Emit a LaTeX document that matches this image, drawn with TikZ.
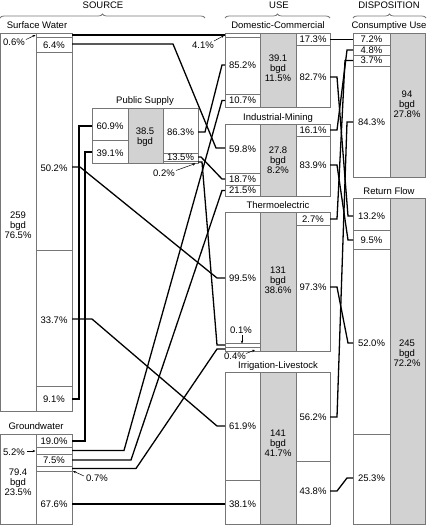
\documentclass[tikz,border=0pt]{standalone}
\usepackage{fontspec}
\setmainfont{Liberation Sans}
\usetikzlibrary{decorations.pathreplacing,arrows.meta}
\definecolor{gfill}{HTML}{D2D2D2}
\definecolor{bline}{HTML}{767676}
\begin{document}
\begin{tikzpicture}[x=1pt,y=-1pt,
  font=\fontsize{9.5}{10.2}\selectfont,
  box/.style={draw=bline, line width=0.8pt},
  gcol/.style={fill=gfill, draw=none},
  conn/.style={line width=1.3pt, black, line join=miter},
  lbl/.style={inner sep=0pt, anchor=base, yshift=-3.4pt},
  glbl/.style={inner sep=0pt, align=center, anchor=center},
  arr/.style={line width=0.5pt, -{Stealth[length=3pt,width=2.4pt]}},
  brace/.style={draw=bline, line width=0.8pt, decorate, decoration={brace, amplitude=4pt}}]
\useasboundingbox (0,0) rectangle (428,525);

% headers
\node[lbl] (hsrc) at (103,5.5) {SOURCE};
\node[lbl] (huse) at (279,5.5) {USE};
\node[lbl] (hdis) at (389,5.5) {DISPOSITION};
\draw[brace] (0,18) -- (205,18);
\draw[brace] (225,18) -- (330,18);
\draw[brace] (353,18) -- (426,18);

% titles
\node[lbl] (tsw) at (37,25.5) {Surface Water};
\node[lbl] (tps) at (145,100) {Public Supply};
\node[lbl] (tgw) at (36,426) {Groundwater};
\node[lbl] (tdc) at (278,25.5) {Domestic-Commercial};
\node[lbl] (tim) at (278,117) {Industrial-Mining};
\node[lbl] (tte) at (278,205) {Thermoelectric};
\node[lbl] (tir) at (278,365) {Irrigation-Livestock};
\node[lbl] (tcu) at (389,25.5) {Consumptive Use};
\node[lbl] (trf) at (389,191) {Return Flow};

% Surface water
\draw[box] (0,33) rectangle (72,411);
\draw[box] (36,33) -- (36,411);
\foreach \yy in {37,52,250,386} \draw[box] (36,\yy) -- (72,\yy);
\node[glbl] (swt) at (18,225) {259\\bgd\\76.5\%};
\node[lbl] (sw06l) at (14,42) {0.6\%};
\draw[arr] (26,39.5) -- (35.5,35);
\node[lbl] (sw64l) at (54,45) {6.4\%};
\node[lbl] (sw502l) at (54,168) {50.2\%};
\node[lbl] (sw337l) at (54,320) {33.7\%};
\node[lbl] (sw91l) at (54,399) {9.1\%};

% Groundwater
\draw[box] (0,434) rectangle (72,524);
\draw[box] (36,434) -- (36,524);
\foreach \yy in {447,454,466,471} \draw[box] (36,\yy) -- (72,\yy);
\node[glbl] (gwt) at (18,482) {79.4\\bgd\\23.5\%};
\node[lbl] (gw19l) at (54,441) {19.0\%};
\node[lbl] (gw75l) at (54,460.5) {7.5\%};
\node[lbl] (gw676l) at (54,504) {67.6\%};
\node[lbl] (gw52l) at (14,452) {5.2\%};
\draw[arr] (27,451) -- (35.5,451);
\node[lbl] (gw07l) at (97,478) {0.7\%};
\draw[arr] (84,476) -- (73,471);

% Public supply
\fill[gfill] (128,108) rectangle (163,163);
\draw[box] (92,108) rectangle (198,163);
\draw[box] (128,108) -- (128,163);
\draw[box] (163,108) -- (163,163);
\draw[box] (92,140) -- (128,140);
\draw[box] (163,153) -- (198,153);
\draw[box] (163,161) -- (198,161);
\node[glbl] (pst) at (145,137) {38.5\\bgd};
\node[lbl] (ps609l) at (110,126) {60.9\%};
\node[lbl] (ps391l) at (110,153) {39.1\%};
\node[lbl] (ps863l) at (180.5,132.5) {86.3\%};
\node[lbl] (ps135l) at (180.5,157.5) {13.5\%};
\node[lbl] (ps02l) at (164,173) {0.2\%};
\draw[arr] (176,170.5) -- (195.5,163.5);

% Domestic-Commercial
\fill[gfill] (260,33) rectangle (296,107);
\draw[box] (225,33) rectangle (330,107);
\draw[box] (260,33) -- (260,107);
\draw[box] (296,33) -- (296,107);
\draw[box] (225,37) -- (260,37);
\draw[box] (225,94) -- (260,94);
\draw[box] (296,45) -- (330,45);
\node[glbl] (dct) at (278,68) {39.1\\bgd\\11.5\%};
\node[lbl] (dc852l) at (242.5,65) {85.2\%};
\node[lbl] (dc107l) at (242.5,100.5) {10.7\%};
\node[lbl] (dc173l) at (313,39.5) {17.3\%};
\node[lbl] (dc827l) at (313,77) {82.7\%};
\node[lbl] (dc41l) at (203,45) {4.1\%};
\draw[arr] (214,41) -- (224,35.5);

% Industrial-Mining
\fill[gfill] (260,124) rectangle (296,196);
\draw[box] (225,124) rectangle (330,196);
\draw[box] (260,124) -- (260,196);
\draw[box] (296,124) -- (296,196);
\draw[box] (225,173) -- (260,173);
\draw[box] (225,185) -- (260,185);
\draw[box] (296,136) -- (330,136);
\node[glbl] (imt) at (278,160) {27.8\\bgd\\8.2\%};
\node[lbl] (im598l) at (242.5,149) {59.8\%};
\node[lbl] (im187l) at (242.5,179) {18.7\%};
\node[lbl] (im215l) at (242.5,190.5) {21.5\%};
\node[lbl] (im161l) at (313,130) {16.1\%};
\node[lbl] (im839l) at (313,165) {83.9\%};

% Thermoelectric
\fill[gfill] (260,212) rectangle (296,351);
\draw[box] (225,212) rectangle (330,351);
\draw[box] (260,212) -- (260,351);
\draw[box] (296,212) -- (296,351);
\draw[box] (225,343) -- (260,343);
\draw[box] (225,347) -- (260,347);
\draw[box] (296,225) -- (330,225);
\node[glbl] (tet) at (278,280) {131\\bgd\\38.6\%};
\node[lbl] (te995l) at (242.5,278) {99.5\%};
\node[lbl] (te27l) at (313,219) {2.7\%};
\node[lbl] (te973l) at (313,287) {97.3\%};
\node[lbl] (te01l) at (241,330) {0.1\%};
\draw[arr] (242,335) -- (242,343.5);
\node[lbl] (te04l) at (235,356) {0.4\%};
\draw[arr] (246,353.5) -- (255,350);

% Irrigation-Livestock
\fill[gfill] (260,372) rectangle (296,524);
\draw[box] (225,372) rectangle (330,524);
\draw[box] (260,372) -- (260,524);
\draw[box] (296,372) -- (296,524);
\draw[box] (225,480) -- (260,480);
\draw[box] (296,461) -- (330,461);
\node[glbl] (irt) at (278,443) {141\\bgd\\41.7\%};
\node[lbl] (ir619l) at (242.5,426) {61.9\%};
\node[lbl] (ir381l) at (242.5,504) {38.1\%};
\node[lbl] (ir562l) at (313,417) {56.2\%};
\node[lbl] (ir438l) at (313,491) {43.8\%};

% Consumptive use
\fill[gfill] (390,33) rectangle (425,177);
\draw[box] (353,33) rectangle (425,177);
\draw[box] (390,33) -- (390,177);
\foreach \yy in {45,55,66} \draw[box] (353,\yy) -- (390,\yy);
\node[glbl] (cut) at (407,104) {94\\bgd\\27.8\%};
\node[lbl] (cu72l) at (371.5,39.5) {7.2\%};
\node[lbl] (cu48l) at (371.5,50) {4.8\%};
\node[lbl] (cu37l) at (371.5,60.5) {3.7\%};
\node[lbl] (cu843l) at (371.5,122) {84.3\%};

% Return flow
\fill[gfill] (390,198) rectangle (425,524);
\draw[box] (353,198) rectangle (425,524);
\draw[box] (390,198) -- (390,524);
\foreach \yy in {230,249,434} \draw[box] (353,\yy) -- (390,\yy);
\node[glbl] (rft) at (407,353) {245\\bgd\\72.2\%};
\node[lbl] (rf132l) at (371.5,216) {13.2\%};
\node[lbl] (rf95l) at (371.5,240) {9.5\%};
\node[lbl] (rf520l) at (371.5,343) {52.0\%};
\node[lbl] (rf253l) at (371.5,478) {25.3\%};

% ports
\coordinate (sw06) at (72,35);
\coordinate (sw64) at (72,44);
\coordinate (sw502) at (72,167);
\coordinate (sw337) at (72,319);
\coordinate (sw91) at (72,399);
\coordinate (gw19) at (72,441);
\coordinate (gw52) at (72,450.5);
\coordinate (gw75) at (72,460);
\coordinate (gw07) at (72,468.5);
\coordinate (gw676) at (72,504);
\coordinate (ps609) at (92,126);
\coordinate (ps391) at (92,152);
\coordinate (ps863) at (198,132);
\coordinate (ps135) at (198,157);
\coordinate (ps02) at (198,162);
\coordinate (dc41) at (225,35);
\coordinate (dc852) at (225,65);
\coordinate (dc107) at (225,100.5);
\coordinate (dc173) at (330,39.5);
\coordinate (dc827) at (330,77);
\coordinate (im598) at (225,148);
\coordinate (im187) at (225,179);
\coordinate (im215) at (225,190.5);
\coordinate (im161) at (330,130);
\coordinate (im839) at (330,165);
\coordinate (te995) at (225,278);
\coordinate (te01) at (225,345);
\coordinate (te04) at (225,349);
\coordinate (te27) at (330,219);
\coordinate (te973) at (330,287);
\coordinate (ir619) at (225,426);
\coordinate (ir381) at (225,504);
\coordinate (ir562) at (330,417);
\coordinate (ir438) at (330,491);
\coordinate (cu72) at (353,39.5);
\coordinate (cu48) at (353,50);
\coordinate (cu37) at (353,60.5);
\coordinate (cu843) at (353,122);
\coordinate (rf132) at (353,216);
\coordinate (rf95) at (353,240);
\coordinate (rf520) at (353,343);
\coordinate (rf253) at (353,478);

% connectors: sources to uses
\draw[conn] (sw06) -- (dc41);
\draw[conn] (sw64) -- (173,44) -- (216,148) -- (im598);
\draw[conn] (sw502) -- (80,167) -- (217,278) -- (te995);
\draw[conn] (sw337) -- (92,319) -- (217,426) -- (ir619);
\draw[conn] (sw91) -- (79,399) -- (79,126) -- (ps609);
\draw[conn] (gw19) -- (85,441) -- (85,152) -- (ps391);
\draw[conn] (gw52) -- (124,450.5) -- (222,100.5) -- (dc107);
\draw[conn] (gw75) -- (131,460) -- (222,190.5) -- (im215);
\draw[conn] (gw07) -- (136,468.5) -- (217,349) -- (te04);
\draw[conn] (gw676) -- (ir381);
\draw[conn] (ps863) -- (205,132) -- (222,65) -- (dc852);
\draw[conn] (ps135) -- (201,157) -- (222,179) -- (im187);
\draw[conn] (ps02) -- (202,162) -- (217,345) -- (te01);

% connectors: uses to disposition
\draw[conn] (dc173) -- (cu72);
\draw[conn] (dc827) -- (337,77) -- (348,216) -- (rf132);
\draw[conn] (im161) -- (337,130) -- (347,50) -- (cu48);
\draw[conn] (im839) -- (337,165) -- (348,240) -- (rf95);
\draw[conn] (te27) -- (337,219) -- (345,60.5) -- (cu37);
\draw[conn] (te973) -- (337,287) -- (348,343) -- (rf520);
\draw[conn] (ir562) -- (337,417) -- (347,122) -- (cu843);
\draw[conn] (ir438) -- (337,491) -- (347,478) -- (rf253);
\end{tikzpicture}
\end{document}
